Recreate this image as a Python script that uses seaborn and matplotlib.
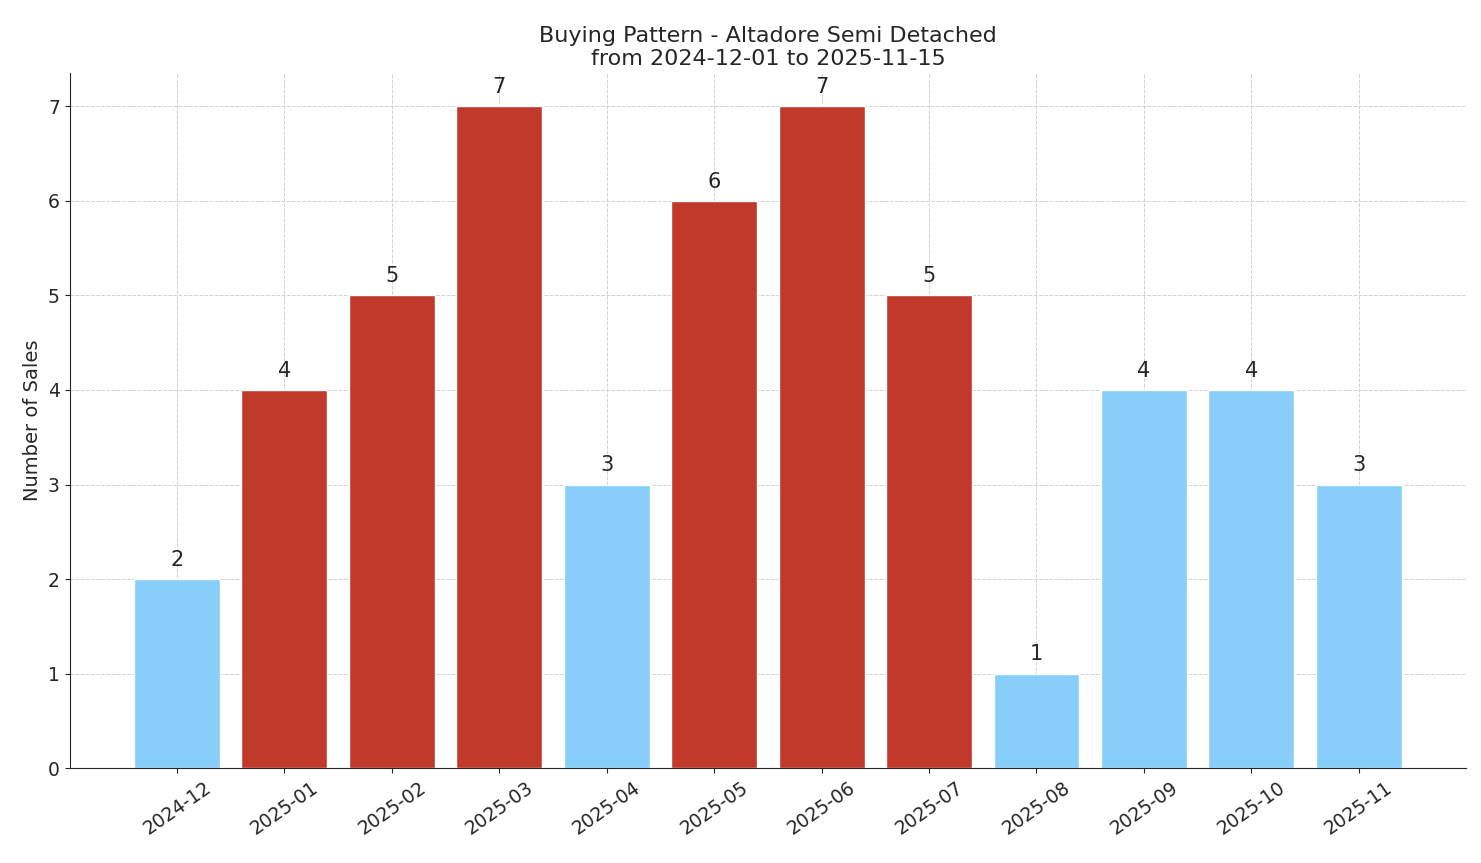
import pandas as pd
import matplotlib
matplotlib.use('Agg')
import matplotlib.pyplot as plt
import seaborn as sns

# Monthly sales counts
months = ['2024-12', '2025-01', '2025-02', '2025-03', '2025-04', '2025-05',
          '2025-06', '2025-07', '2025-08', '2025-09', '2025-10', '2025-11']
sales = [2, 4, 5, 7, 3, 6, 7, 5, 1, 4, 4, 3]
# months flagged as peak (red) in the original
peak = [False, True, True, True, False, True, True, True, False, False, False, False]

df = pd.DataFrame({'Month': months, 'Sales': sales,
                   'Peak': ['peak' if p else 'normal' for p in peak]})

sns.set_style('ticks')
fig, ax = plt.subplots(figsize=(14.81, 8.63), dpi=100)

sns.barplot(data=df, x='Month', y='Sales', hue='Peak',
            palette={'peak': '#C0392B', 'normal': '#87CEFA'},
            dodge=False, width=0.8, saturation=1, legend=False, ax=ax, zorder=2)

for i, v in enumerate(sales):
    ax.text(i, v + 0.1, str(v), ha='center', va='bottom', fontsize=15)

ax.set_xlim(-1, 12)
ax.set_ylim(0, 7.35)
ax.grid(True, linestyle='--', color='#d0d0d0', linewidth=0.7, zorder=0)
ax.set_axisbelow(True)
sns.despine(ax=ax)

ax.set_title('Buying Pattern - Altadore Semi Detached\nfrom 2024-12-01 to 2025-11-15', fontsize=16)
ax.set_xlabel('')
ax.set_ylabel('Number of Sales', fontsize=14)
ax.tick_params(axis='both', labelsize=13.5)
plt.setp(ax.get_xticklabels(), rotation=35)

plt.subplots_adjust(left=0.047, right=0.99, top=0.915, bottom=0.11)
plt.savefig('out.png', dpi=100)
